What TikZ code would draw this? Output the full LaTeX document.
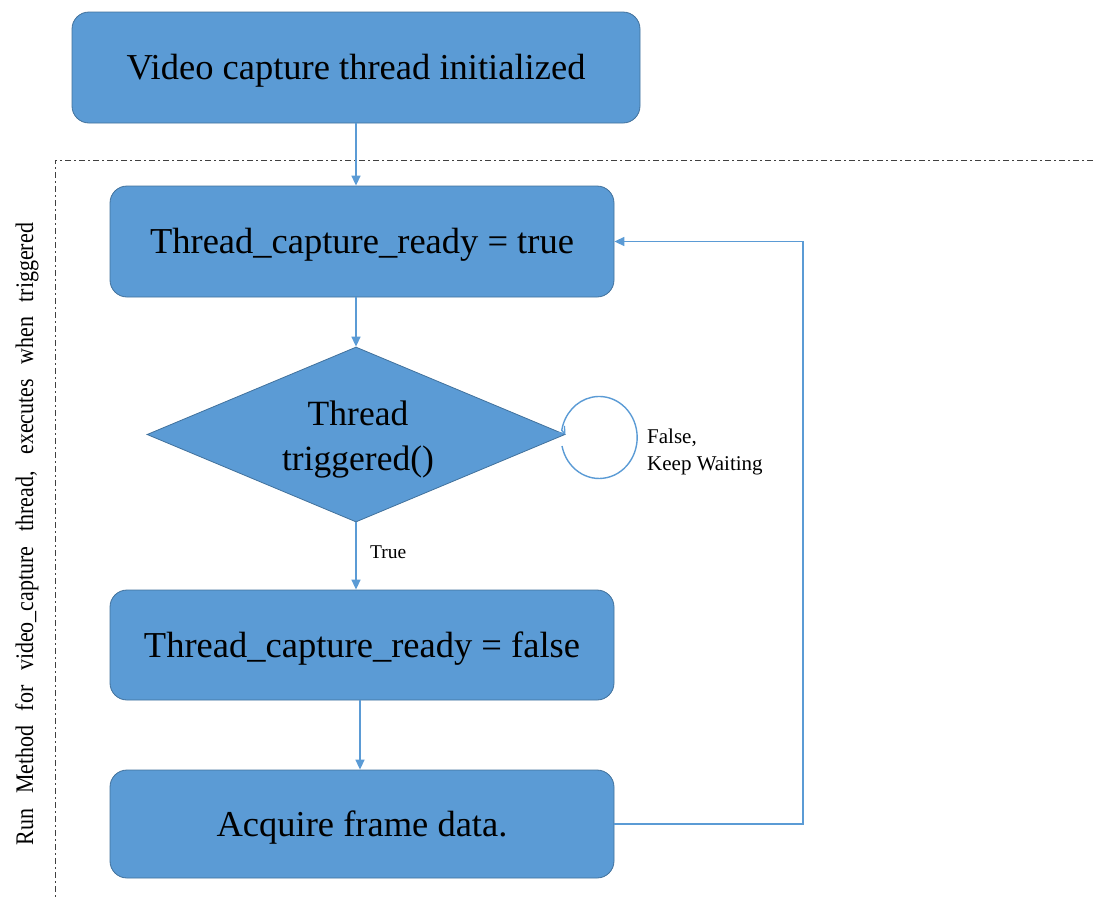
\documentclass[tikz,border=0pt]{standalone}
\usepackage{fontspec}
\setmainfont{Liberation Serif}
\usetikzlibrary{arrows.meta,shapes.geometric,calc}
\definecolor{boxfill}{HTML}{5B9BD5}
\definecolor{boxline}{HTML}{41719C}
\definecolor{conncol}{HTML}{5B9BD5}
\definecolor{frameline}{HTML}{404040}
\begin{document}
\begin{tikzpicture}[x=1pt,y=-1pt,
  box/.style={draw=boxline, line width=0.8pt, fill=boxfill, rounded corners=17pt,
    inner sep=0pt, text height=24pt, text depth=0pt, font=\fontsize{36.5}{43}\selectfont},
  decision/.style={diamond, draw=boxline, line width=0.8pt, fill=boxfill, inner sep=0pt,
    minimum width=418pt, minimum height=175pt, shape aspect=2.39},
  dtext/.style={align=center, inner sep=0pt, font=\fontsize{35.5}{45}\selectfont},
  conn/.style={draw=conncol, line width=1.5pt, -{Triangle[length=10pt,width=9pt]}},
  small/.style={font=\fontsize{19.5}{27}\selectfont, inner sep=0pt},
  frame/.style={draw=frameline, line width=0.9pt, dash pattern=on 6pt off 3pt on 2pt off 3pt}]
\useasboundingbox (0,0) rectangle (1093,900);

\draw[frame] (1093,160) -- (55,160) -- (55,900);

\node[box, minimum width=568pt, minimum height=111pt] (b1) at (356,67.5) {Video capture thread initialized};
\node[box, minimum width=504pt, minimum height=111pt] (b2) at (362,241.5) {Thread\_capture\_ready = true};
\node[decision] (dia) at (356,434.5) {};
\node[dtext, anchor=base] (dt) at (358,470) {Thread\\triggered()};
\node[box, minimum width=504pt, minimum height=110pt] (b3) at (362,645) {Thread\_capture\_ready = false};
\node[box, minimum width=504pt, minimum height=108pt] (b4) at (362,824) {Acquire frame data.};

\draw[conn] (b1.south) -- (b1.south |- b2.north);
\draw[conn] (b2.south -| dia.north) -- (dia.north);
\draw[conn] (dia.south) -- (dia.south |- b3.north);
\coordinate (c34) at (360,0);
\draw[conn] (b3.south -| c34) -- (b4.north -| c34);

\coordinate (fb) at (803,0);
\draw[conn] (b4.east) -- (b4.east -| fb) -- (b2.east -| fb) -- (b2.east);

\coordinate (ls) at (562,446);
\draw[draw=conncol, line width=1.4pt, -{Straight Barb[length=6pt,width=10pt]}]
  (ls) arc[start angle=168, end angle=-170, x radius=38, y radius=41] -- (dia.east);

\node[small, anchor=base west] (tl) at (370,558) {True};
\node[small, anchor=base west, align=left, font=\fontsize{21}{27}\selectfont] (fl) at (647,470) {False,\\Keep Waiting};

\node[rotate=90, anchor=base, inner sep=0pt, font=\fontsize{22}{26}\selectfont] (side) at (33,534)
  {\scalebox{1}[1.15]{\makebox[622pt][s]{Run Method for video\_capture thread, executes when triggered}}};
\end{tikzpicture}
\end{document}
